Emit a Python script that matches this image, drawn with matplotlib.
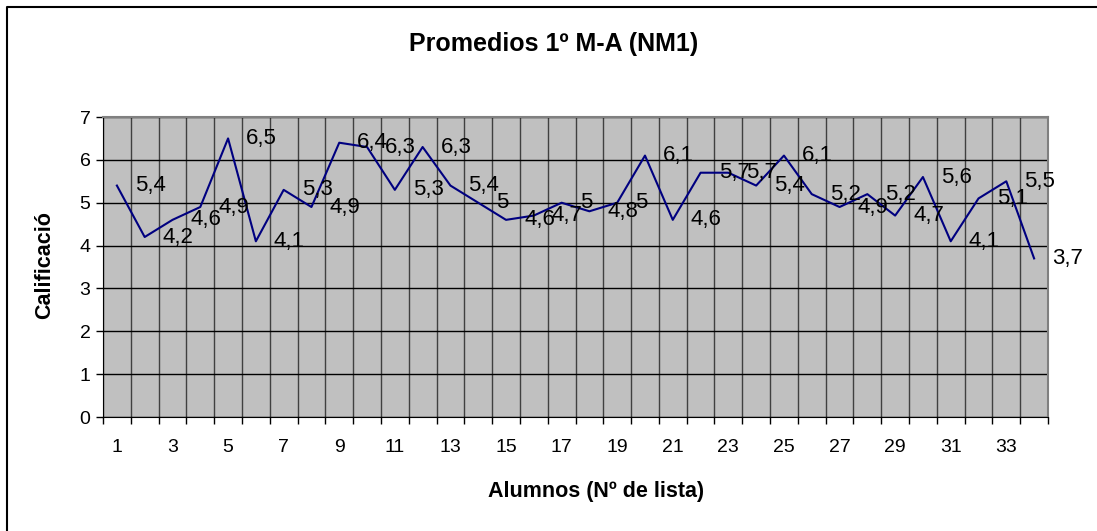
import numpy as np
import matplotlib.pyplot as plt
from matplotlib.lines import Line2D

# Promedios por alumno (Nº de lista 1..34)
alumnos = np.arange(1, 35)
promedios = [5.4, 4.2, 4.6, 4.9, 6.5, 4.1, 5.3, 4.9, 6.4, 6.3,
             5.3, 6.3, 5.4, 5.0, 4.6, 4.7, 5.0, 4.8, 5.0, 6.1,
             4.6, 5.7, 5.7, 5.4, 6.1, 5.2, 4.9, 5.2, 4.7, 5.6,
             4.1, 5.1, 5.5, 3.7]
xtick_labels = [str(n) for n in range(1, 35, 2)]

plt.rcParams['font.family'] = ['Liberation Sans', 'DejaVu Sans']

fig = plt.figure(figsize=(10.97, 5.31), dpi=100)
ax = fig.add_axes([103/1097, 1-417/531, (1048-103)/1097, 300/531])

# outer chart frame: only left and top edges are visible in the original
fx, fy = 6.5/1097, 1-7/531
fig.lines.append(Line2D([fx, fx, 1.0], [0.0, fy, fy], transform=fig.transFigure,
                        color='black', linewidth=1.5))

ax.set_facecolor('#C0C0C0')
ax.plot(alumnos, promedios, color='#000080', linewidth=1.5, zorder=3)

for x, v in zip(alumnos, promedios):
    txt = ('%g' % v).replace('.', ',')
    ax.annotate(txt, (x, v), xytext=(13, 0), textcoords='offset points',
                ha='left', va='center', fontsize=16, color='black',
                annotation_clip=False, zorder=4)

ax.set_xlim(0.5, 34.5)
ax.set_ylim(0, 7)
ax.set_yticks(range(0, 8))
ax.set_xticks(range(1, 35, 2))
ax.set_xticklabels(xtick_labels)
ax.set_xticks(np.arange(0.5, 35, 1), minor=True)
ax.tick_params(axis='x', which='major', length=0, labelsize=14, pad=16)
ax.tick_params(axis='x', which='minor', length=5, width=1, direction='out')
ax.tick_params(axis='y', length=5, width=1, labelsize=14, pad=4)

ax.grid(axis='y', which='major', color='black', linewidth=1)
ax.grid(axis='x', which='minor', color='#404040', linewidth=1)
ax.set_axisbelow(True)

for side in ['top', 'right']:
    ax.spines[side].set_color('#808080')
    ax.spines[side].set_linewidth(1.5)
ax.spines['left'].set_color('black')
ax.spines['bottom'].set_color('black')

fig.text(554/1097, 1-44/531, 'Promedios 1º M-A (NM1)', ha='center', va='center',
         fontsize=18, fontweight='bold')
fig.text(45/1097, 1-265/531, 'Calificació', ha='center', va='center',
         rotation=90, fontsize=15.5, fontweight='bold')
fig.text(596/1097, 1-491/531, 'Alumnos (Nº de lista)', ha='center', va='center',
         fontsize=15.5, fontweight='bold')

fig.savefig('out.png', dpi=100, facecolor='white')
